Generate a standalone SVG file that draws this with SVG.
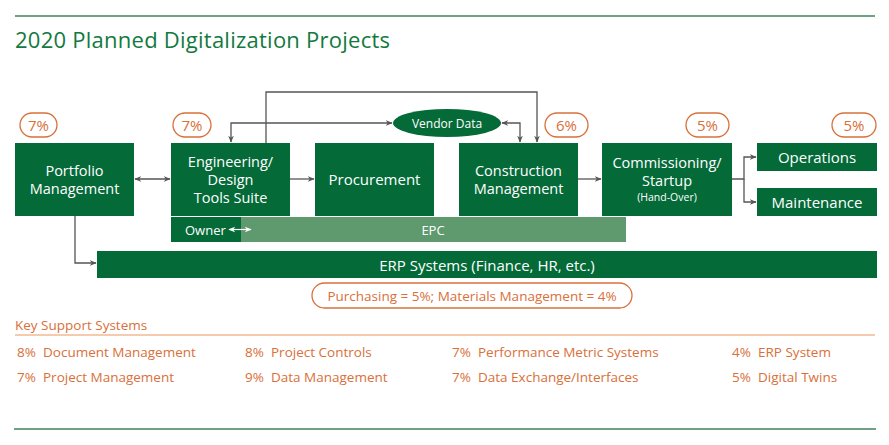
<svg xmlns="http://www.w3.org/2000/svg" width="889" height="445" viewBox="0 0 889 445">
<defs>
<marker id="ah" viewBox="0 0 10 10" refX="9" refY="5" markerWidth="7" markerHeight="7" orient="auto-start-reverse" markerUnits="userSpaceOnUse">
<path d="M0,1 L10,5 L0,9 L3,5 Z" fill="#555"/>
</marker>
<marker id="ahw" viewBox="0 0 10 10" refX="9" refY="5" markerWidth="7" markerHeight="7" orient="auto-start-reverse" markerUnits="userSpaceOnUse">
<path d="M0,1 L10,5 L0,9 L3,5 Z" fill="#fff"/>
</marker>
<style>
text{font-family:"Open Sans","Noto Sans","Liberation Sans",sans-serif}
.box{fill:#046A38}
.lt{fill:#fff;font-size:14.5px;text-anchor:middle;dominant-baseline:central}
.big{font-size:15px}
.pill{fill:#fff;stroke:#D8703A;stroke-width:1.3}
.pt{fill:#D8703A;font-size:15px;text-anchor:middle;dominant-baseline:central}
.con{fill:none;stroke:#555;stroke-width:1.3}
.ks{fill:#D8703A;font-size:13.5px;dominant-baseline:central}
.rule{stroke:#6FA283;stroke-width:2}
</style>
</defs>
<line class="rule" x1="15" y1="16" x2="875" y2="16"/>
<line class="rule" x1="14" y1="429" x2="876" y2="429"/>
<text x="15" y="48" font-size="22" fill="#127A3E" textLength="375">2020 Planned Digitalization Projects</text>

<g id="connectors">
<line class="con" x1="135" y1="179" x2="170" y2="179" marker-start="url(#ah)" marker-end="url(#ah)"/>
<line class="con" x1="290" y1="179" x2="314" y2="179" marker-end="url(#ah)"/>
<line class="con" x1="578" y1="179" x2="601" y2="179" marker-end="url(#ah)"/>
<polyline class="con" points="732,179 744,179 744,157 756,157" marker-end="url(#ah)"/>
<polyline class="con" points="744,179 744,202 756,202" marker-end="url(#ah)"/>
<polyline class="con" points="266,143 266,92 537,92 537,142" marker-end="url(#ah)"/>
<polyline class="con" points="231,142 231,123 392,123" marker-start="url(#ah)" marker-end="url(#ah)"/>
<polyline class="con" points="502,123 520,123 520,142" marker-start="url(#ah)" marker-end="url(#ah)"/>
<polyline class="con" points="75,216 75,263 96,263" marker-end="url(#ah)"/>
</g>

<g id="portfolio">
<rect class="box" x="15" y="143" width="119" height="73"/>
<text class="lt" x="74.5" y="170">Portfolio</text>
<text class="lt" x="74.5" y="188">Management</text>
</g>
<g id="engineering">
<rect class="box" x="171" y="143" width="119" height="73"/>
<text class="lt" x="230.5" y="161">Engineering/</text>
<text class="lt" x="230.5" y="179">Design</text>
<text class="lt" x="230.5" y="197">Tools Suite</text>
</g>
<g id="procurement">
<rect class="box" x="315" y="143" width="119" height="73"/>
<text class="lt big" x="374.5" y="179">Procurement</text>
</g>
<g id="construction">
<rect class="box" x="459" y="143" width="119" height="73"/>
<text class="lt" x="518.5" y="170">Construction</text>
<text class="lt" x="518.5" y="188">Management</text>
</g>
<g id="commissioning">
<rect class="box" x="602" y="143" width="130" height="73"/>
<text class="lt" x="667" y="162">Commissioning/</text>
<text class="lt" x="667" y="180">Startup</text>
<text class="lt" x="667" y="197" style="font-size:10.5px">(Hand-Over)</text>
</g>
<g id="operations">
<rect class="box" x="757" y="143" width="120" height="28"/>
<text class="lt big" x="817" y="157">Operations</text>
</g>
<g id="maintenance">
<rect class="box" x="757" y="188" width="120" height="28"/>
<text class="lt big" x="817" y="202">Maintenance</text>
</g>
<g id="vendor-data">
<ellipse class="box" cx="447" cy="123" rx="54" ry="14"/>
<text class="lt" x="447" y="123" style="font-size:12px">Vendor Data</text>
</g>
<g id="owner-epc">
<rect x="241" y="217" width="385" height="25" fill="#5F9A6E"/>
<rect class="box" x="171" y="217" width="70" height="25"/>
<text class="lt" x="185" y="229.5" style="font-size:13px;text-anchor:start">Owner</text>
<text class="lt" x="433" y="229.5" style="font-size:13px">EPC</text>
<line x1="229" y1="229.5" x2="251" y2="229.5" stroke="#fff" stroke-width="1.2" marker-start="url(#ahw)" marker-end="url(#ahw)"/>
</g>
<g id="erp">
<rect class="box" x="97" y="251" width="780" height="27"/>
<text class="lt big" x="487" y="264.5">ERP Systems (Finance, HR, etc.)</text>
</g>

<g id="pct">
<rect class="pill" x="20" y="113" width="37" height="24" rx="12"/>
<text class="pt" x="38.5" y="125">7%</text>
<rect class="pill" x="173" y="113" width="38" height="24" rx="12"/>
<text class="pt" x="192" y="125">7%</text>
<rect class="pill" x="545" y="113" width="43" height="24" rx="12"/>
<text class="pt" x="566.5" y="125">6%</text>
<rect class="pill" x="686" y="113" width="43" height="24" rx="12"/>
<text class="pt" x="707.5" y="125">5%</text>
<rect class="pill" x="832" y="113" width="44" height="24" rx="12"/>
<text class="pt" x="854" y="125">5%</text>
<rect class="pill" x="312" y="283" width="320" height="25" rx="12.5"/>
<text class="pt" x="472" y="295.5" style="font-size:13.5px">Purchasing = 5%; Materials Management = 4%</text>
</g>

<g id="key-support">
<text class="ks" x="15" y="325">Key Support Systems</text>
<line x1="15" y1="335" x2="875" y2="335" stroke="#F2B894" stroke-width="1.3"/>
<text class="ks" x="17" y="352">8%</text><text class="ks" x="43" y="352">Document Management</text>
<text class="ks" x="17" y="377">7%</text><text class="ks" x="43" y="377">Project Management</text>
<text class="ks" x="245" y="352">8%</text><text class="ks" x="271" y="352">Project Controls</text>
<text class="ks" x="245" y="377">9%</text><text class="ks" x="271" y="377">Data Management</text>
<text class="ks" x="452" y="352">7%</text><text class="ks" x="478" y="352">Performance Metric Systems</text>
<text class="ks" x="452" y="377">7%</text><text class="ks" x="478" y="377">Data Exchange/Interfaces</text>
<text class="ks" x="732" y="352">4%</text><text class="ks" x="758" y="352">ERP System</text>
<text class="ks" x="732" y="377">5%</text><text class="ks" x="758" y="377">Digital Twins</text>
</g>
</svg>
